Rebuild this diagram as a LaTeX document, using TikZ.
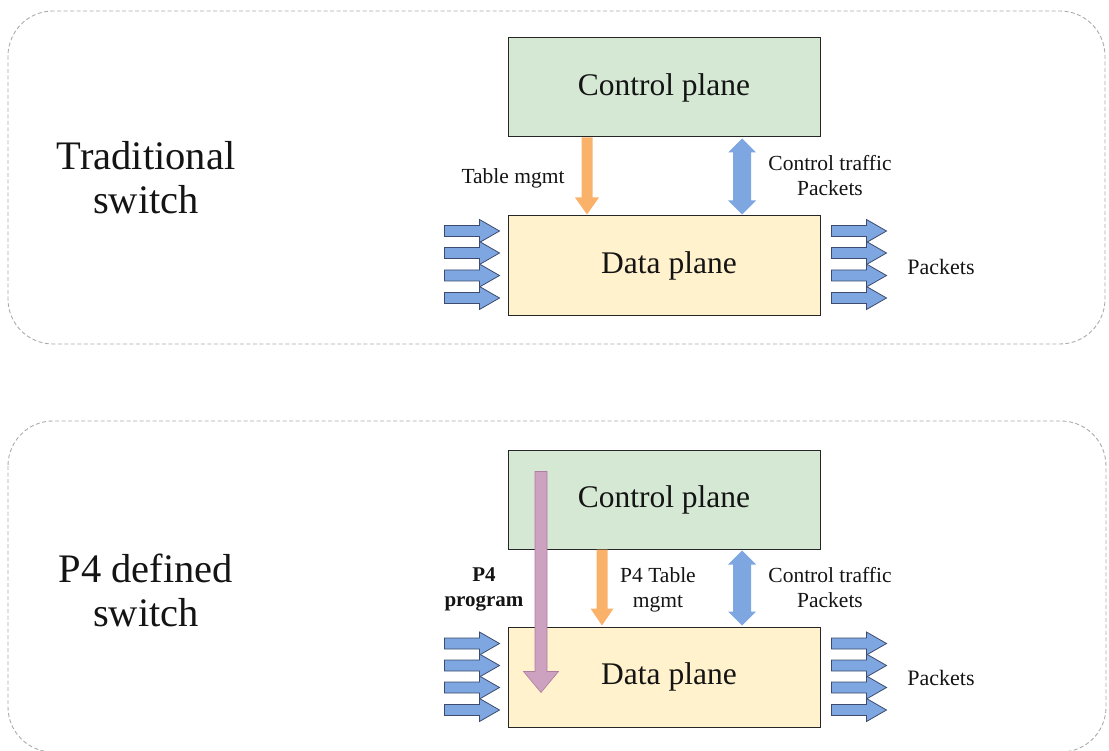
\documentclass[tikz,border=0pt]{standalone}
\usepackage{fontspec}
\setmainfont{Liberation Serif}
\usetikzlibrary{calc}
\definecolor{cpfill}{RGB}{213,232,212}
\definecolor{dpfill}{RGB}{255,242,204}
\definecolor{orangeA}{RGB}{250,178,107}
\definecolor{blueA}{RGB}{126,166,224}
\definecolor{blueB}{RGB}{60,75,110}
\definecolor{pinkA}{RGB}{205,162,192}
\definecolor{pinkB}{RGB}{175,125,160}
\definecolor{dashgray}{RGB}{170,170,170}
\definecolor{txt}{RGB}{20,20,20}

% style, from, to, shaft half, head half, head length
\newcommand{\downblock}[6]{%
 \path[#1] let \p1=(#2), \p2=(#3) in
 (\x1-#4,\y1) -- (\x1+#4,\y1) -- (\x1+#4,\y2+#6) -- (\x1+#5,\y2+#6) -- (\x1,\y2)
 -- (\x1-#5,\y2+#6) -- (\x1-#4,\y2+#6) -- cycle;}
\newcommand{\dblblock}[6]{%
 \path[#1] let \p1=(#2), \p2=(#3) in
 (\x1,\y1) -- (\x1+#5,\y1-#6) -- (\x1+#4,\y1-#6) -- (\x1+#4,\y2+#6) -- (\x1+#5,\y2+#6)
 -- (\x1,\y2) -- (\x1-#5,\y2+#6) -- (\x1-#4,\y2+#6) -- (\x1-#4,\y1-#6) -- (\x1-#5,\y1-#6) -- cycle;}
\newcommand{\rightblock}[6]{%
 \path[#1] let \p1=(#2), \p2=(#3) in
 (\x1,\y1+#4) -- (\x2-#6,\y1+#4) -- (\x2-#6,\y1+#5) -- (\x2,\y1) -- (\x2-#6,\y1-#5)
 -- (\x2-#6,\y1-#4) -- (\x1,\y1-#4) -- cycle;}

\begin{document}
\begin{tikzpicture}[x=1pt,y=-1pt,
  outerbox/.style={draw=dashgray,line width=0.9pt,dash pattern=on 4pt off 2.5pt,rounded corners=45pt},
  planebox/.style={draw=black!85,line width=1pt,minimum width=312pt,inner sep=0pt,text=txt,
     font=\fontsize{31.5}{36}\selectfont},
  cpbox/.style={planebox,fill=cpfill,minimum height=99pt},
  dpbox/.style={planebox,fill=dpfill,minimum height=100pt},
  orangearrow/.style={fill=orangeA},
  bluearrow/.style={fill=blueA},
  pinkarrow/.style={fill=pinkA,draw=pinkB,line width=0.6pt},
  packetarrow/.style={fill=blueA,draw=blueB,line width=0.8pt,line join=miter},
  title/.style={align=center,text=txt,font=\fontsize{40.5}{44}\selectfont},
  lbl/.style={align=center,text=txt,font=\fontsize{21.5}{25}\selectfont},
  pkt/.style={text=txt,font=\fontsize{22}{25}\selectfont}]
\useasboundingbox (0,0) rectangle (1109,751);

% ---------- Traditional switch ----------
\draw[outerbox] (8,11) rectangle (1105,344);
\node[title] (t1) at (146,178) {Traditional\\switch};
\node[cpbox] (cp1) at (664,87.5) {\raisebox{-6pt}{Control plane}};
\node[dpbox] (dp1) at (664,266) {\hspace*{10pt}\raisebox{-5pt}{Data plane}};

\downblock{orangearrow}{[xshift=-77pt]cp1.south}{[xshift=-77pt,yshift=1pt]dp1.north}{5.5pt}{12pt}{17pt}
\dblblock{bluearrow}{[xshift=78pt,yshift=-1pt]cp1.south}{[xshift=78pt,yshift=1pt]dp1.north}{9pt}{14pt}{14pt}

\node[lbl] (l1) at (513,178) {Table mgmt};
\node[lbl] (c1) at (830,175.5) {Control traffic\\Packets};
\node[pkt] (p1) at (941,267) {Packets};

\foreach \o [count=\i] in {15.5,37.5,60,82.5}{
  \coordinate (li\i) at ($(dp1.north west)+(-63,\o)$);
  \coordinate (le\i) at ($(dp1.north west)+(-8,\o)$);
  \coordinate (ri\i) at ($(dp1.north east)+(11,\o)$);
  \coordinate (re\i) at ($(dp1.north east)+(66,\o)$);
  \rightblock{packetarrow}{li\i}{le\i}{5.5pt}{11.5pt}{20pt}
  \rightblock{packetarrow}{ri\i}{re\i}{5.5pt}{11.5pt}{20pt}
}

% ---------- P4 defined switch ----------
\draw[outerbox] (8,421) rectangle (1106,752);
\node[title] (t2) at (146,590) {P4 defined\\switch};
\node[cpbox] (cp2) at (664,499.5) {\raisebox{-6pt}{Control plane}};
\node[dpbox] (dp2) at (664,677) {\hspace*{10pt}\raisebox{-5pt}{Data plane}};

\downblock{orangearrow}{[xshift=-62pt]cp2.south}{[xshift=-62pt,yshift=1pt]dp2.north}{5.5pt}{11.5pt}{17pt}
\dblblock{bluearrow}{[xshift=78pt,yshift=-1pt]cp2.south}{[xshift=78pt,yshift=1pt]dp2.north}{9pt}{14pt}{14pt}

\coordinate (ptop) at ($(cp2.north)+(-123,22)$);
\coordinate (pend) at ($(dp2.north)+(-123,66)$);
\downblock{pinkarrow}{ptop}{pend}{6pt}{17.5pt}{21pt}

\node[lbl] (l2) at (658,589.5) {P4 Table\\mgmt};
\node[lbl,font=\fontsize{21}{25}\selectfont\bfseries] (pp) at (484,589.5) {P4\\program};
\node[lbl] (c2) at (830,587.5) {Control traffic\\Packets};
\node[pkt] (p2) at (941,678) {Packets};

\foreach \o [count=\i] in {17,39,61,83.5}{
  \coordinate (bli\i) at ($(dp2.north west)+(-63,\o)$);
  \coordinate (ble\i) at ($(dp2.north west)+(-8,\o)$);
  \coordinate (bri\i) at ($(dp2.north east)+(11,\o)$);
  \coordinate (bre\i) at ($(dp2.north east)+(66,\o)$);
  \rightblock{packetarrow}{bli\i}{ble\i}{5.5pt}{11.5pt}{20pt}
  \rightblock{packetarrow}{bri\i}{bre\i}{5.5pt}{11.5pt}{20pt}
}
\end{tikzpicture}
\end{document}
